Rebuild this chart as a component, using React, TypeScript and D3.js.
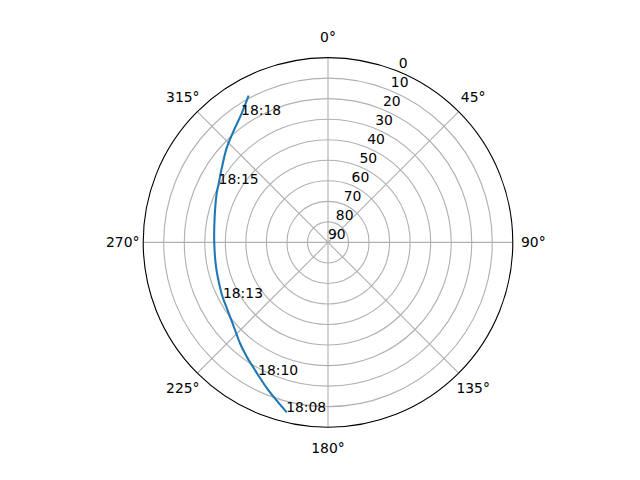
import React from "react";
import * as d3 from "d3";

// Track samples (azimuth deg, elevation deg), 18:08 -> 18:18
const trackAz = [193.9, 202.0, 207.8, 209.8, 215.4, 221.1, 226.7, 239.4, 242.1, 246.1, 257.8, 270.0, 282.8, 293.8, 298.1, 304.9, 312.9, 319.5, 325.7, 331.3];
const trackEl = [5.1, 12.4, 17.0, 18.4, 21.7, 24.8, 27.8, 31.7, 32.1, 32.8, 34.2, 34.6, 33.4, 30.75, 29.6, 26.9, 22.6, 19.0, 14.85, 9.1];

// Time annotations
const labelTimes = ["18:08", "18:10", "18:13", "18:15", "18:18"];
const labelAz = [193.9, 207.8, 242.1, 298.1, 325.7];
const labelEl = [5.1, 17.0, 32.1, 29.6, 14.85];

// Axis ticks
const thetaTicks = [0, 45, 90, 135, 180, 225, 270, 315];
const rTicks = [0, 10, 20, 30, 40, 50, 60, 70, 80, 90];

const W = 640;
const H = 480;
const cx = 328;
const cy = 242.4;
const R = 184.8;
const FONT = "DejaVu Sans, sans-serif";
const FS = 13.9;
const PT = 100 / 72;
const rad = (d: number) => (d * Math.PI) / 180;

export default function App() {
  const r = d3.scaleLinear().domain([90, 0]).range([0, R]);
  const pts = trackAz.map((a, i) => ({ a: rad(a), r: r(trackEl[i]) }));
  const line = d3
    .lineRadial<{ a: number; r: number }>()
    .angle((d) => d.a)
    .radius((d) => d.r)
    .curve(d3.curveCatmullRom);
  const rlabelAngle = rad(22.5);

  return (
    <svg width={W} height={H} style={{ position: "fixed", left: 0, top: 0, background: "#fff" }} fontFamily={FONT} fontSize={FS}>
      <rect width={W} height={H} fill="#fff" />
      <g transform={`translate(${cx},${cy})`}>
        {rTicks.filter((v) => v > 0 && v < 90).map((v) => (
          <circle key={v} r={r(v)} fill="none" stroke="#b0b0b0" strokeWidth={0.8 * PT} />
        ))}
        {thetaTicks.map((t) => {
          const [x, y] = d3.pointRadial(rad(t), R);
          return <line key={t} x1={0} y1={0} x2={x} y2={y} stroke="#b0b0b0" strokeWidth={0.8 * PT} />;
        })}
        <circle r={R} fill="none" stroke="#000" strokeWidth={0.8 * PT} />
        <path d={line(pts) || ""} fill="none" stroke="#1f77b4" strokeWidth={1.5 * PT} strokeLinecap="square" />
        {labelTimes.map((t, i) => {
          const [x, y] = d3.pointRadial(rad(labelAz[i]), r(labelEl[i]));
          return (
            <text key={t} x={x} y={y} fill="#000">
              {t}
            </text>
          );
        })}
        {rTicks.map((v) => {
          const [x, y] = d3.pointRadial(rlabelAngle, r(v));
          return (
            <text key={v} x={x} y={y - 3.3} fill="#000">
              {v}
            </text>
          );
        })}
        {thetaTicks.map((t) => {
          const [x, y] = d3.pointRadial(rad(t), R + 20.5);
          return (
            <text key={t} x={x} y={y} textAnchor="middle" dominantBaseline="central" fill="#000">
              {`${t}°`}
            </text>
          );
        })}
      </g>
    </svg>
  );
}
